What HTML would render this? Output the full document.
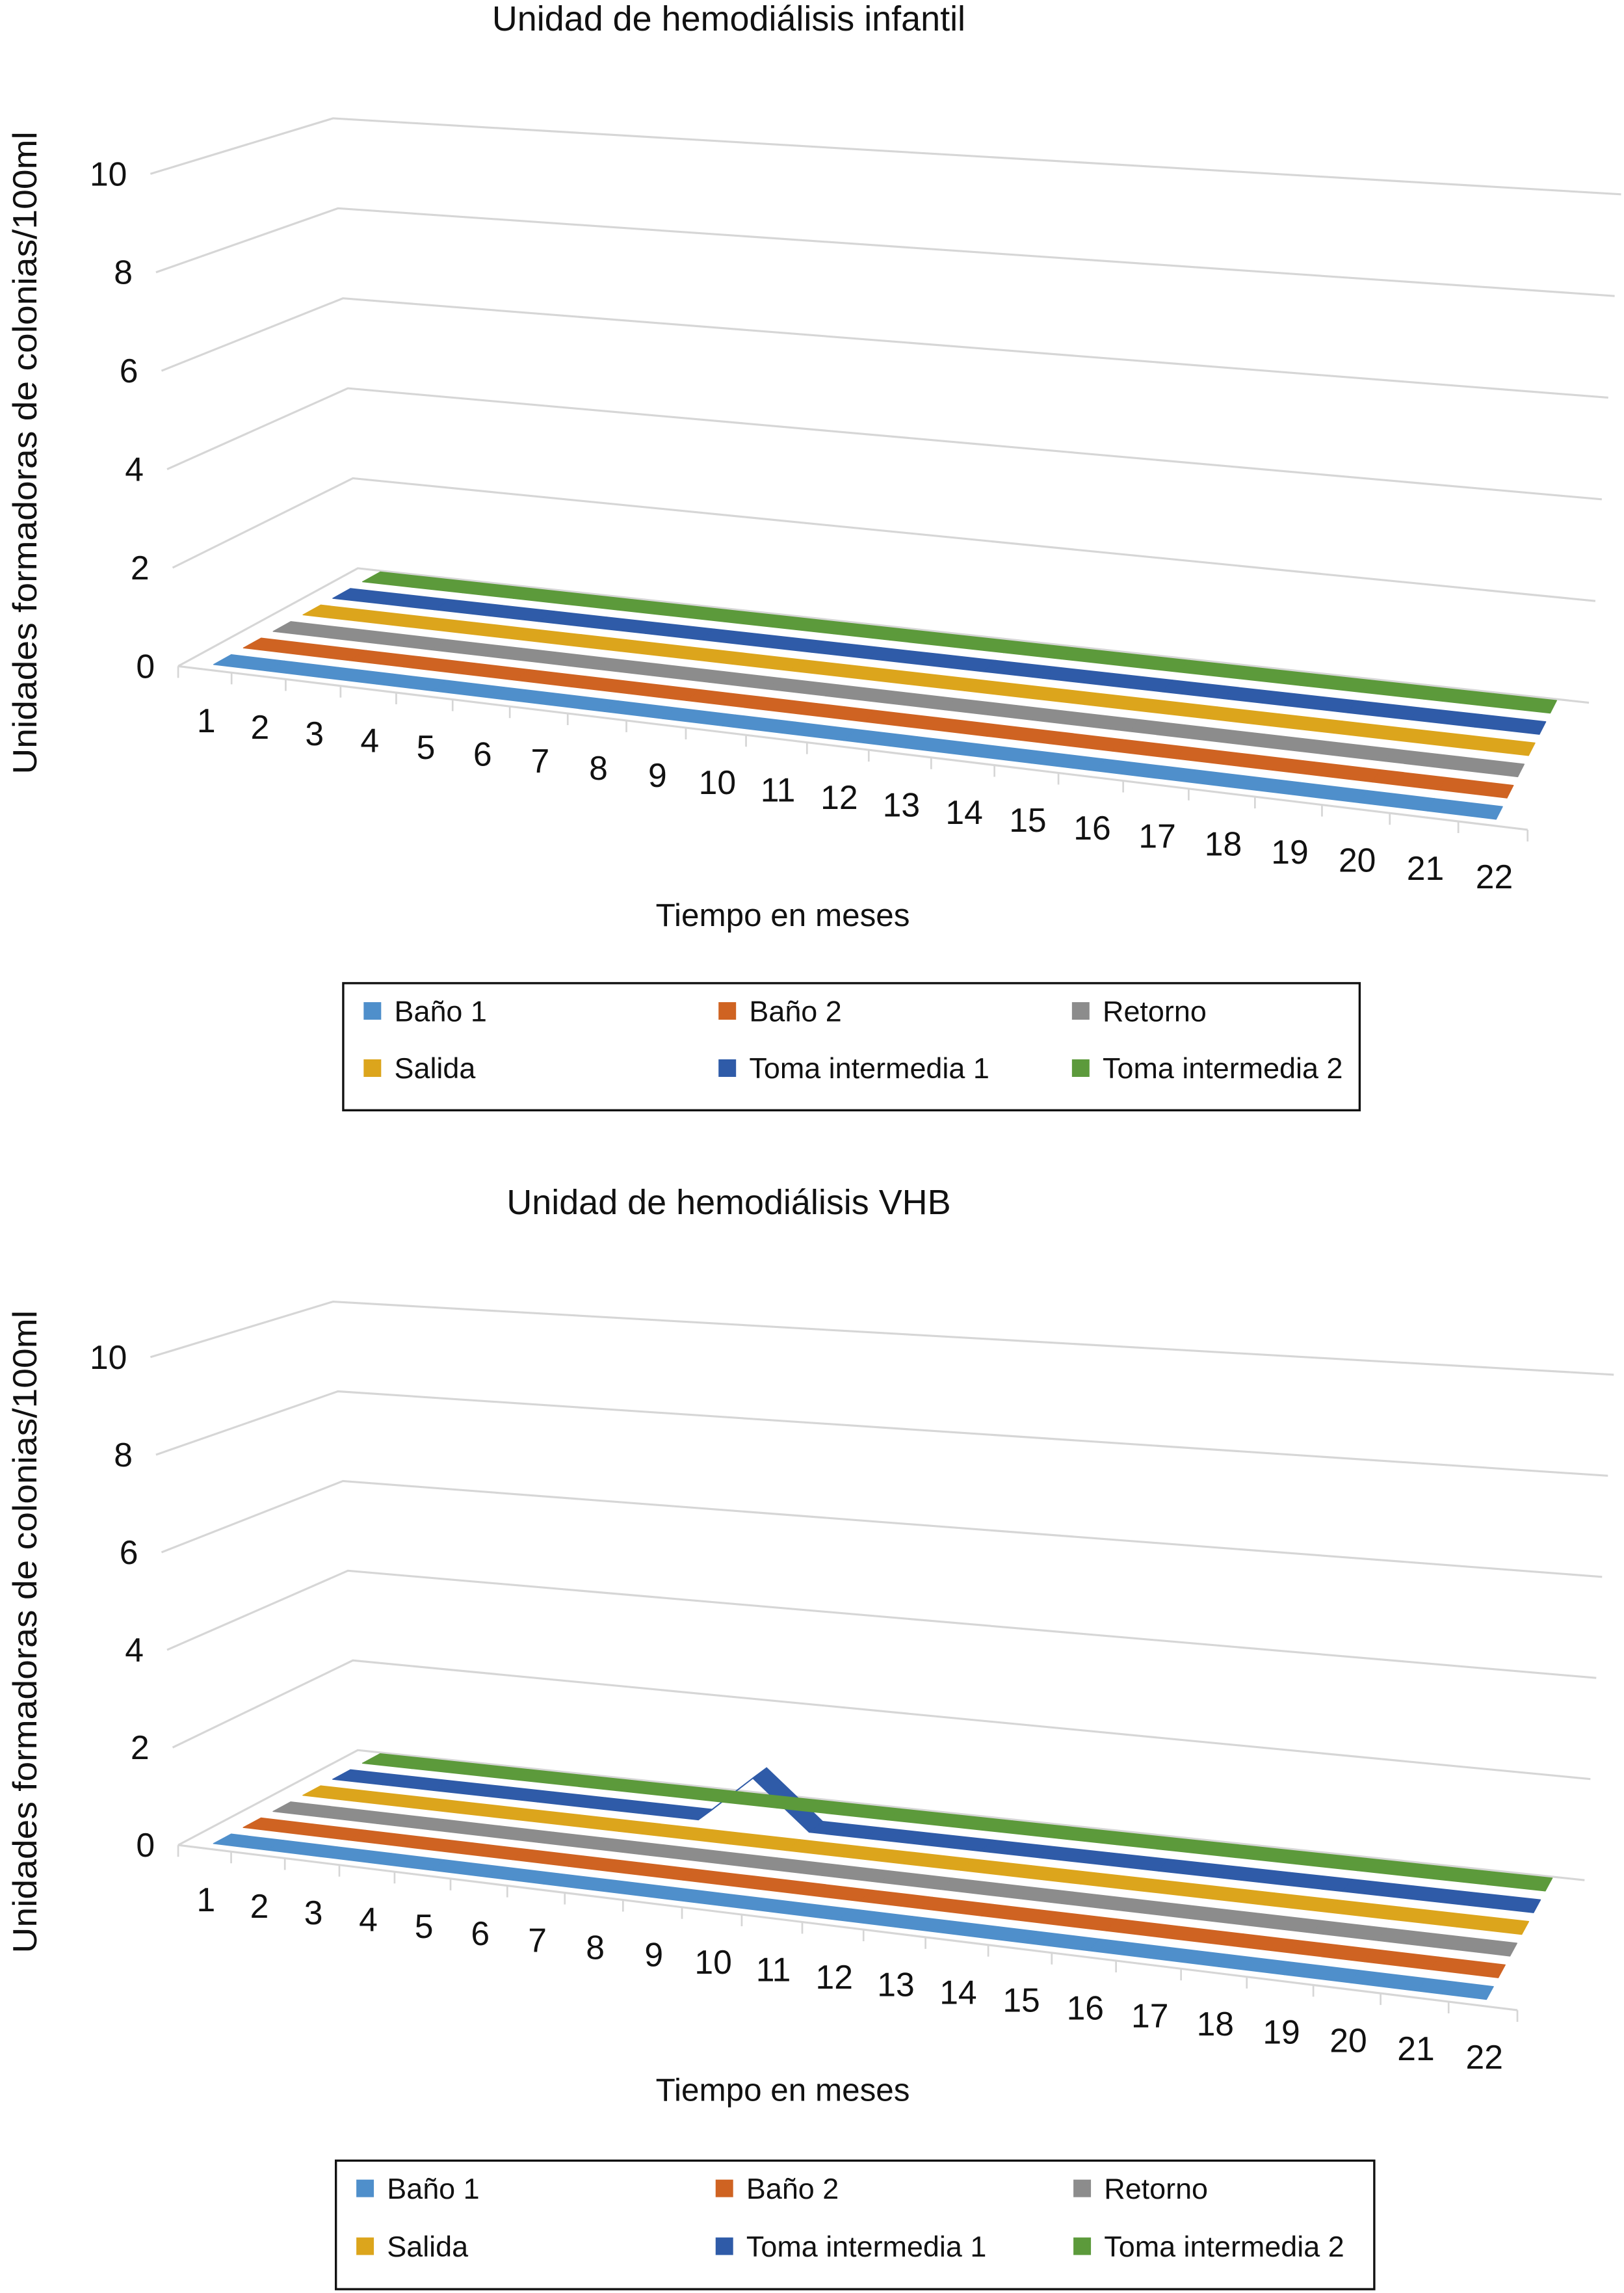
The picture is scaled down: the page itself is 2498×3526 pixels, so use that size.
<!DOCTYPE html>
<html><head><meta charset="utf-8"><style>
html,body{margin:0;padding:0;background:#fff}
svg{display:block}
text{font-family:"Liberation Sans",Arial,sans-serif;fill:#111}
</style></head><body>
<svg id="root" width="2498" height="3526" viewBox="0 0 1112 1569.6" xmlns="http://www.w3.org/2000/svg">
<g id="c1"></g>
<g id="c2"></g>
</svg>
<script>
const months=[1,2,3,4,5,6,7,8,9,10,11,12,13,14,15,16,17,18,19,20,21,22];
const yTicks=[0,2,4,6,8,10];
const seriesNames=["Baño 1","Baño 2","Retorno","Salida","Toma intermedia 1","Toma intermedia 2"];
const seriesColors=["#4f8fcb","#cf6322","#8c8c8c","#dca51c","#2f5ba8","#5c9a3b"];
const infBano1=[0,0,0,0,0,0,0,0,0,0,0,0,0,0,0,0,0,0,0,0,0,0];
const infBano2=[0,0,0,0,0,0,0,0,0,0,0,0,0,0,0,0,0,0,0,0,0,0];
const infRetorno=[0,0,0,0,0,0,0,0,0,0,0,0,0,0,0,0,0,0,0,0,0,0];
const infSalida=[0,0,0,0,0,0,0,0,0,0,0,0,0,0,0,0,0,0,0,0,0,0];
const infToma1=[0,0,0,0,0,0,0,0,0,0,0,0,0,0,0,0,0,0,0,0,0,0];
const infToma2=[0,0,0,0,0,0,0,0,0,0,0,0,0,0,0,0,0,0,0,0,0,0];
const vhbBano1=[0,0,0,0,0,0,0,0,0,0,0,0,0,0,0,0,0,0,0,0,0,0];
const vhbBano2=[0,0,0,0,0,0,0,0,0,0,0,0,0,0,0,0,0,0,0,0,0,0];
const vhbRetorno=[0,0,0,0,0,0,0,0,0,0,0,0,0,0,0,0,0,0,0,0,0,0];
const vhbSalida=[0,0,0,0,0,0,0,0,0,0,0,0,0,0,0,0,0,0,0,0,0,0];
const vhbToma1=[0,0,0,0,0,0,0,0,1,0,0,0,0,0,0,0,0,0,0,0,0,0];
const vhbToma2=[0,0,0,0,0,0,0,0,0,0,0,0,0,0,0,0,0,0,0,0,0,0];

const NS="http://www.w3.org/2000/svg";
function mk(tag,attrs,parent){const e=document.createElementNS(NS,tag);for(const k in attrs)e.setAttribute(k,attrs[k]);parent.appendChild(e);return e;}

const geoms=[
 {g:'c1',title:"Unidad de hemodiálisis infantil",titleY:21,fl:[122,456],fr:[1046,568],bl:[245,389],br:[1088,481],
  vfl:[-1.9,-33.7],vfr:[1.2,-37],vbl:[-1.7,-30.8],vbr:[2.2,-34.8],ytitleY:310,xtitleY:634,
  leg:[235,673,696,87],series:[infBano1,infBano2,infRetorno,infSalida,infToma1,infToma2]},
 {g:'c2',title:"Unidad de hemodiálisis VHB",titleY:831,fl:[122,1263],fr:[1039,1376],bl:[245,1198],br:[1085,1287],
  vfl:[-1.9,-33.4],vfr:[1.1,-36.8],vbl:[-1.7,-30.7],vbr:[2.0,-34.6],ytitleY:1117,xtitleY:1438,
  leg:[230,1479,711,88],series:[vhbBano1,vhbBano2,vhbRetorno,vhbSalida,vhbToma1,vhbToma2]}
];
function warp(t){return 0.864*t+0.136*t*t;}
function lerp(a,b,t){return [a[0]+(b[0]-a[0])*t,a[1]+(b[1]-a[1])*t];}
function P(G,t,d,v){const w=warp(t);
 const f=lerp(G.fl,G.fr,w),b=lerp(G.bl,G.br,w),base=lerp(f,b,d);
 const vf=lerp(G.vfl,G.vfr,w),vb=lerp(G.vbl,G.vbr,w),vv=lerp(vf,vb,d);
 return [base[0]+vv[0]*v,base[1]+vv[1]*v];}
function pts(a){return a.map(p=>p[0].toFixed(2)+","+p[1].toFixed(2)).join(" ");}

geoms.forEach((G,gi)=>{
 const g=document.getElementById(G.g);
 const t=mk('text',{x:499,y:G.titleY,'font-size':24,'text-anchor':'middle'},g);t.textContent=G.title;
 
 
 yTicks.forEach(v=>{
  const l=mk('polyline',{points:pts([P(G,0,0,v),P(G,0,1,v),P(G,1,1,v)]),fill:'none',stroke:'#d6d6d6','stroke-width':1.4},g);
  
  
  const p=P(G,0,0,v);
  const tx=mk('text',{x:p[0]-16,y:p[1]+8,'font-size':23,'text-anchor':'end'},g);tx.textContent=v;
  
  
 });
 const fe=mk('line',{x1:P(G,0,0,0)[0],y1:P(G,0,0,0)[1],x2:P(G,1,0,0)[0],y2:P(G,1,0,0)[1],stroke:'#d6d6d6','stroke-width':1.4},g);
 
 
 for(let k=0;k<=22;k++){const p=P(G,k/22,0,0);
  const tk=mk('line',{x1:p[0],y1:p[1],x2:p[0],y2:p[1]+8,stroke:'#d6d6d6','stroke-width':1.2},g);
  
  }
 months.forEach((m,i)=>{const p=P(G,(i+0.5)/22,0,0);
  const tx=mk('text',{x:p[0]+1,y:p[1]+43,'font-size':23,'text-anchor':'middle'},g);tx.textContent=m;
  
  });
 G.series.forEach((vals,k)=>{
  const d=0.1+k*0.168,h=0.05;
  const sg=mk('g',{},g);
  
  
  for(let i=0;i<vals.length-1;i++){
   const t1=(i+0.5)/22,t2=(i+1.5)/22;
   const q=[P(G,t1,d-h,vals[i]),P(G,t2,d-h,vals[i+1]),P(G,t2,d+h,vals[i+1]),P(G,t1,d+h,vals[i])];
   const pg=mk('polygon',{points:pts(q),fill:seriesColors[k],stroke:seriesColors[k],'stroke-width':0.6,'stroke-linejoin':'round'},sg);
   
   
  }
 });
 const yt=mk('text',{x:0,y:0,'font-size':23,'text-anchor':'middle',transform:'translate(25,'+G.ytitleY+') rotate(-90)',textLength:440,lengthAdjust:'spacingAndGlyphs'},g);
 yt.textContent="Unidades formadoras de colonias/100ml";
 
 
 const xt=mk('text',{x:536,y:G.xtitleY,'font-size':22,'text-anchor':'middle'},g);xt.textContent="Tiempo en meses";
 
 
 const [lx,ly,lw,lh]=G.leg;
 const lg=mk('g',{},g);
 
 
 mk('rect',{x:lx,y:ly,width:lw,height:lh,fill:'#fff',stroke:'#111','stroke-width':1.5},lg);
 const colX=[lx+14,lx+257,lx+499];
 seriesNames.forEach((n,k)=>{
  const cx=colX[k%3]+(gi===1?(k%3)*3:0),cy=ly+19+Math.floor(k/3)*(lh*0.45);
  const sq=mk('rect',{x:cx,y:cy-6,width:12,height:12,fill:seriesColors[k]},lg);
  
  
  const tx=mk('text',{x:cx+21,y:cy+7,'font-size':20},lg);tx.textContent=n;
  
  
 });
});
</script>
</body></html>
